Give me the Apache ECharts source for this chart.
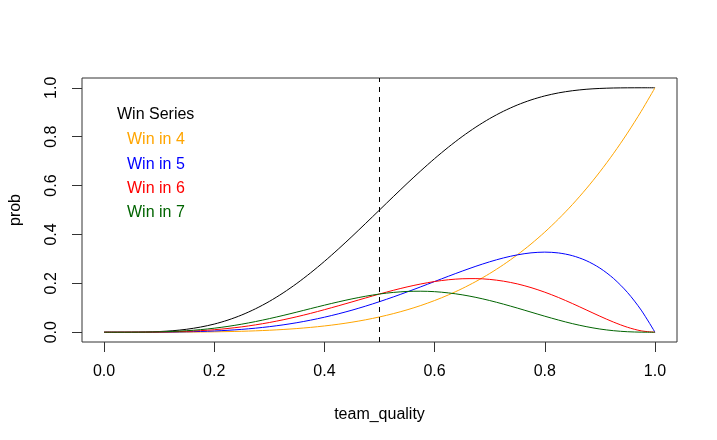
<!DOCTYPE html>
<html>
<head>
<meta charset="utf-8">
<script src="https://cdn.jsdelivr.net/npm/echarts@6/dist/echarts.min.js"></script>
<style>
  html, body { margin: 0; padding: 0; background: #fff; }
  #main { width: 717px; height: 440px; }
</style>
</head>
<body>
<div id="main"></div>
<script>
// values
var quality = [0, 0.025, 0.05, 0.075, 0.1, 0.125, 0.15, 0.175, 0.2, 0.225, 0.25, 0.275, 0.3, 0.325,
  0.35, 0.375, 0.4, 0.425, 0.45, 0.475, 0.5, 0.525, 0.55, 0.575, 0.6, 0.625, 0.65, 0.675,
  0.7, 0.725, 0.75, 0.775, 0.8, 0.825, 0.85, 0.875, 0.9, 0.925, 0.95, 0.975, 1]
var winSeries = [0, 0, 0.0002, 0.0009, 0.0027, 0.0062, 0.0121, 0.021, 0.0333, 0.0498, 0.0706, 0.096, 0.126, 0.1607,
  0.1998, 0.243, 0.2898, 0.3396, 0.3917, 0.4455, 0.5, 0.5545, 0.6083, 0.6604, 0.7102, 0.757, 0.8002, 0.8393,
  0.874, 0.904, 0.9294, 0.9502, 0.9667, 0.9791, 0.9879, 0.9938, 0.9973, 0.9991, 0.9998, 1, 1]
var win4 = [0, 0, 0, 0, 0.0001, 0.0002, 0.0005, 0.0009, 0.0016, 0.0026, 0.0039, 0.0057, 0.0081, 0.0112,
  0.015, 0.0198, 0.0256, 0.0326, 0.041, 0.0509, 0.0625, 0.076, 0.0915, 0.1093, 0.1296, 0.1526, 0.1785, 0.2076,
  0.2401, 0.2763, 0.3164, 0.3608, 0.4096, 0.4633, 0.522, 0.5862, 0.6561, 0.7321, 0.8145, 0.9037, 1]
var win5 = [0, 0, 0, 0.0001, 0.0004, 0.0009, 0.0017, 0.0031, 0.0051, 0.0079, 0.0117, 0.0166, 0.0227, 0.0301,
  0.039, 0.0494, 0.0614, 0.075, 0.0902, 0.1069, 0.125, 0.1443, 0.1647, 0.1858, 0.2074, 0.2289, 0.2499, 0.2699,
  0.2881, 0.3039, 0.3164, 0.3247, 0.3277, 0.3243, 0.3132, 0.2931, 0.2624, 0.2196, 0.1629, 0.0904, 0]
var win6 = [0, 0, 0.0001, 0.0003, 0.0008, 0.0019, 0.0037, 0.0064, 0.0102, 0.0154, 0.022, 0.0301, 0.0397, 0.0508,
  0.0634, 0.0772, 0.0922, 0.1079, 0.124, 0.1403, 0.1563, 0.1714, 0.1853, 0.1974, 0.2074, 0.2146, 0.2187, 0.2193,
  0.2161, 0.2089, 0.1978, 0.1826, 0.1638, 0.1419, 0.1175, 0.0916, 0.0656, 0.0412, 0.0204, 0.0056, 0]
var win7 = [0, 0, 0.0001, 0.0005, 0.0015, 0.0033, 0.0062, 0.0105, 0.0164, 0.0239, 0.033, 0.0436, 0.0556, 0.0686,
  0.0824, 0.0966, 0.1106, 0.124, 0.1364, 0.1473, 0.1563, 0.1628, 0.1668, 0.1678, 0.1659, 0.1609, 0.1531, 0.1425,
  0.1297, 0.1149, 0.0989, 0.0822, 0.0655, 0.0497, 0.0352, 0.0229, 0.0131, 0.0062, 0.002, 0.0003, 0]
var ticks = [0, 0.2, 0.4, 0.6, 0.8, 1]
var cutoff = 0.5

var names = ['Win in 4', 'Win in 5', 'Win in 6', 'Win in 7']
var colors = ['#FFA500', '#0000FF', '#FF0000', '#006400']
var values = [win4, win5, win6, win7]

var font = '"Liberation Sans", Arial, Helvetica, sans-serif'

function pairs(arr) {
  return quality.map((q, i) => [q, arr[i]])
}

var chart = echarts.init(document.getElementById('main'))

var series = [
  {
    name: 'Win Series',
    type: 'line',
    data: pairs(winSeries),
    smooth: 0.3,
    showSymbol: false,
    lineStyle: { color: '#000', width: 1 },
    itemStyle: { color: '#000' },
    silent: true,
    markLine: {
      silent: true,
      symbol: 'none',
      label: { show: false },
      lineStyle: { color: '#000', width: 1, type: [5, 5] },
      data: [{ xAxis: cutoff }]
    }
  }
]
names.forEach((n, i) => {
  series.push({
    name: n,
    type: 'line',
    data: pairs(values[i]),
    smooth: 0.3,
    showSymbol: false,
    lineStyle: { color: colors[i], width: 1 },
    itemStyle: { color: colors[i] },
    silent: true
  })
})

var option = {
  animation: false,
  textStyle: { fontFamily: font },
  title: {
    text: 'Win Series',
    left: 117,
    top: 107,
    padding: 0,
    textStyle: { fontFamily: font, fontSize: 16, fontWeight: 'normal', color: '#000' }
  },
  legend: {
    orient: 'vertical',
    left: 122,
    top: 132,
    padding: 0,
    icon: 'none',
    itemWidth: 0,
    itemHeight: 14,
    itemGap: 8.1,
    selectedMode: false,
    textStyle: { fontFamily: font, fontSize: 16 },
    data: names.map((n, i) => ({ name: n, textStyle: { color: colors[i] } }))
  },
  grid: {
    left: 79,
    right: 40,
    top: 78,
    bottom: 98,
    show: true,
    borderColor: '#333',
    borderWidth: 1,
    backgroundColor: 'transparent'
  },
  xAxis: {
    type: 'value',
    min: -0.04,
    max: 1.04,
    name: 'team_quality',
    nameLocation: 'middle',
    nameGap: 65,
    nameTextStyle: { fontFamily: font, fontSize: 16, color: '#000' },
    axisLine: { show: false, onZero: false },
    splitLine: { show: false },
    axisTick: { show: true, inside: false, length: 10, customValues: ticks, lineStyle: { color: '#333' } },
    axisLabel: {
      customValues: ticks,
      margin: 22,
      fontFamily: font,
      fontSize: 16,
      color: '#000',
      formatter: v => v.toFixed(1)
    }
  },
  yAxis: {
    type: 'value',
    min: -0.04,
    max: 1.04,
    name: 'prob',
    nameLocation: 'middle',
    nameGap: 58,
    nameTextStyle: { fontFamily: font, fontSize: 16, color: '#000' },
    axisLine: { show: false, onZero: false },
    splitLine: { show: false },
    axisTick: { show: true, inside: false, length: 10, customValues: ticks, lineStyle: { color: '#333' } },
    axisLabel: {
      customValues: ticks,
      rotate: 90,
      margin: 22,
      fontFamily: font,
      fontSize: 16,
      color: '#000',
      formatter: v => v.toFixed(1)
    }
  },
  series: series
}

chart.setOption(option)
</script>
</body>
</html>
